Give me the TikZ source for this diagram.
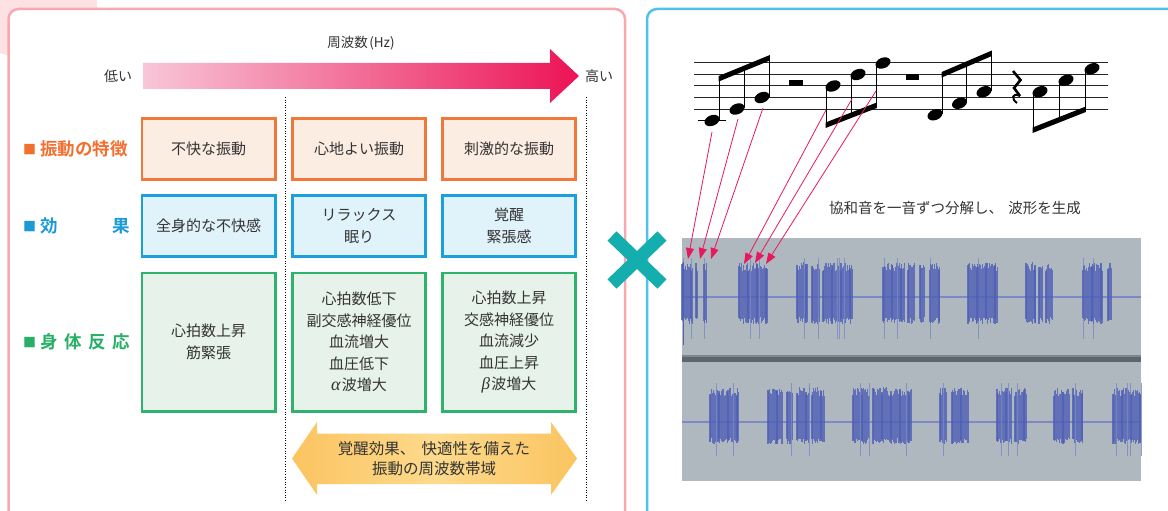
\documentclass[tikz,border=0pt]{standalone}
\usepackage{fontspec}
\setmainfont{Noto Sans CJK JP}
\newfontfamily\jpb{Noto Sans CJK JP Bold}
\newfontfamily\grk{Liberation Serif}
\usetikzlibrary{arrows.meta}
\definecolor{bgpink}{HTML}{FDE1E3}
\definecolor{pinkline}{HTML}{F7A9AF}
\definecolor{blueline}{HTML}{4FC1EC}
\definecolor{xteal}{HTML}{14AEAF}
\definecolor{arrL}{HTML}{F8C6D8}
\definecolor{arrR}{HTML}{EC1356}
\definecolor{orgB}{HTML}{F2773A}
\definecolor{orgF}{HTML}{FCEDE3}
\definecolor{bluB}{HTML}{1AA0DD}
\definecolor{bluF}{HTML}{E0F2FA}
\definecolor{grnB}{HTML}{2DB36C}
\definecolor{grnF}{HTML}{E7F2EA}
\definecolor{orgT}{HTML}{F26F30}
\definecolor{bluT}{HTML}{1B9AD6}
\definecolor{grnT}{HTML}{2AAF69}
\definecolor{txt}{HTML}{333333}
\definecolor{dblL}{HTML}{FBC460}
\definecolor{dblM}{HTML}{FDDA8C}
\definecolor{wavebg}{HTML}{AFB8BF}
\definecolor{wcore}{HTML}{4F60B5}
\definecolor{wspike}{HTML}{7A88C6}
\definecolor{wsep}{HTML}{5B676C}
\definecolor{wmid}{HTML}{7D89C4}
\definecolor{redarr}{HTML}{E8185C}
\newcommand\wblob[5]{%
  \pgfmathtruncatemacro\wbn{(#2-#1)/0.9}%
  \foreach \i in {0,...,\wbn}{%
    \pgfmathsetmacro\wbx{#1+\i*0.9}%
    \pgfmathsetmacro\wbu{#4*(0.78+0.27*rnd)}%
    \pgfmathsetmacro\wbd{#5*(0.78+0.27*rnd)}%
    \draw[wavecore] (\wbx,#3-\wbu) -- (\wbx,#3+\wbd);
    \pgfmathtruncatemacro\wbs{rnd<0.08 ? 1 : 0}%
    \ifnum\wbs=1 \draw[wavespike] (\wbx,#3-#4*1.18) -- (\wbx,#3+#5*1.6);\fi
  }}
\newcommand\nhead[2]{\fill[rotate around={22:(#1,#2)}] (#1,#2) ellipse [x radius=7.8, y radius=5.3];}
\begin{document}
\begin{tikzpicture}[x=1pt,y=-1pt,
  boxtxt/.style={text=txt, font=\fontsize{15}{21.5}\selectfont, align=center, line width=2.6pt, minimum width=133.4pt, inner sep=0pt},
  obox/.style={boxtxt, draw=orgB, fill=orgF, minimum height=61.4pt},
  bbox/.style={boxtxt, draw=bluB, fill=bluF, minimum height=61.4pt},
  gbox/.style={boxtxt, draw=grnB, fill=grnF, minimum height=138.4pt},
  lbl/.style={anchor=west, inner sep=0pt, font=\jpb\fontsize{17.5}{18}\selectfont},
  small/.style={text=txt, font=\fontsize{14}{14}\selectfont, inner sep=0pt},
  wavecore/.style={draw=wcore, line width=1.1pt, opacity=0.8},
  wavespike/.style={draw=wspike, line width=0.8pt, opacity=0.8},
  redconn/.style={draw=redarr, line width=0.8pt, -{Triangle[length=11pt,width=8pt]}},
  xarm/.style={draw=xteal, line width=13pt}
]
\useasboundingbox (0,0) rectangle (1168,511);
% background corner and panels
\fill[bgpink] (0,0) -- (97,0) -- (97,20) -- (20,20) -- (20,60) -- (0,53) -- cycle;
\draw[pinkline, line width=2.5pt, fill=white, rounded corners=10pt] (8.5,9) rectangle (625,560);
\draw[blueline, line width=2.5pt, fill=white, rounded corners=10pt] (647,9) rectangle (1200,560);
% frequency arrow
\shade[left color=arrL, right color=arrR] (143,63) -- (550,63) -- (550,49) -- (579,76) -- (550,103) -- (550,89) -- (143,89) -- cycle;
\node[small] (low) at (118,76) {低い};
\node[small] (high) at (599,76) {高い};
\node[small, font=\fontsize{13.5}{14}\selectfont] (freq) at (361,43) {周波数\hspace{1.5pt}(Hz)};
% dotted separators
\coordinate (d1t) at (285,97); \coordinate (d1b) at (285,502);
\coordinate (d2t) at (586,97); \coordinate (d2b) at (586,502);
\draw[black, line width=0.8pt, dash pattern=on 1pt off 1.6pt] (d1t) -- (d1b);
\draw[black, line width=0.8pt, dash pattern=on 1pt off 1.6pt] (d2t) -- (d2b);
% row labels
\node[lbl, text=orgT] (lab1) at (23,149) {\raisebox{1pt}{\fontsize{13}{13}\selectfont ■}\hspace{4pt}\makebox[90pt][l]{振動の特徴}};
\node[lbl, text=bluT] (lab2) at (23,226) {\raisebox{1pt}{\fontsize{13}{13}\selectfont ■}\hspace{4pt}\makebox[90pt][l]{効\hfill 果}};
\node[lbl, text=grnT] (lab3) at (23,342) {\raisebox{1pt}{\fontsize{13}{13}\selectfont ■}\hspace{4pt}\makebox[90pt][l]{身\hfill 体\hfill 反\hfill 応}};
% boxes
\node[obox] (o1) at (208.5,149) {不快な振動};
\node[obox] (o2) at (359,149) {心地よい振動};
\node[obox] (o3) at (509,149) {刺激的な振動};
\node[bbox] (b1) at (208.5,226) {全身的な不快感};
\node[bbox] (b2) at (359,226) {リラックス\\眠り};
\node[bbox] (b3) at (509,226) {覚醒\\緊張感};
\node[gbox] (g1) at (208.5,342) {心拍数上昇\\筋緊張};
\node[gbox] (g2) at (359,342) {心拍数低下\\副交感神経優位\\血流増大\\血圧低下\\{\grk\itshape\fontsize{18}{18}\selectfont α}\hspace{1.5pt}波増大};
\node[gbox] (g3) at (509,342) {心拍数上昇\\交感神経優位\\血流減少\\血圧上昇\\{\grk\itshape\fontsize{17}{17}\selectfont β}\hspace{1.5pt}波増大};
% double arrow
\shade[left color=dblL, right color=dblL, middle color=dblM] (292,458.5) -- (317,422) -- (317,433.5) -- (551,433.5) -- (551,422) -- (577,458.5) -- (551,495) -- (551,484) -- (317,484) -- (317,495) -- cycle;
\node[text=txt, font=\fontsize{15.5}{20}\selectfont, align=center] (band) at (434,458.5) {覚醒効果、\hspace{0.4em}快適性を備えた\\振動の周波数帯域};
% X mark
\draw[xarm] (612,236) -- (662,284);
\draw[xarm] (612,284) -- (662,236);
% staff
\foreach \yy in {63,74.5,86,97.5,109} \draw[line width=1pt, black!85] (694,\yy) -- (1108,\yy);
\draw[line width=1pt] (698,120.5) -- (726,120.5);
% group 1
\nhead{712}{120.5}\nhead{737}{109}\nhead{762}{97.5}
\draw[line width=1.2pt] (719.3,120) -- (719.3,78) (744.3,108) -- (744.3,68) (769.3,97) -- (769.3,57);
\fill (718.7,76) -- (769.9,55) -- (769.9,60.5) -- (718.7,81.5) -- cycle;
% half rest
\fill (789,80) rectangle (803,86);
% group 2
\nhead{833}{86}\nhead{858}{74.5}\nhead{883}{63}
\draw[line width=1.2pt] (826.2,86.5) -- (826.2,126) (851.2,75) -- (851.2,116) (876.2,63.5) -- (876.2,106);
\fill (825.6,122.5) -- (876.8,102.5) -- (876.8,108) -- (825.6,128) -- cycle;
% whole rest
\fill (906,74.5) rectangle (919,80.5);
% group 3
\nhead{935}{114.75}\nhead{959.5}{103.25}\nhead{984}{91.75}
\draw[line width=1.2pt] (942.3,114) -- (942.3,74) (966.8,103) -- (966.8,64) (991.3,91) -- (991.3,53);
\fill (941.7,72) -- (991.9,50.5) -- (991.9,56) -- (941.7,77.5) -- cycle;
% quarter rest
\draw[line width=2.6pt, line join=miter] (1013,71) -- (1020.5,80) -- (1014,88) -- (1020,96);
\draw[line width=2pt] (1020,96) .. controls (1012,92) and (1011,99) .. (1017,103);
% group 4
\nhead{1040}{91.75}\nhead{1066}{80.25}\nhead{1092}{68.75}
\draw[line width=1.2pt] (1033.2,92) -- (1033.2,131) (1059.2,80.5) -- (1059.2,121) (1085.2,69) -- (1085.2,111);
\fill (1032.6,127.5) -- (1085.8,106.5) -- (1085.8,112) -- (1032.6,133) -- cycle;
% caption
\node[text=txt, font=\fontsize{14.5}{15}\selectfont, inner sep=0pt] (cap) at (955,208) {協和音を一音ずつ分解し、\hspace{0.35em}波形を生成};
% waveform
\fill[wavebg] (682,238) rectangle (1141,481);
\draw[wmid, line width=1.5pt] (682,297) -- (1141,297);
\draw[wmid, line width=1.5pt] (682,422) -- (1141,422);
\fill[wsep] (682,356.5) rectangle (1141,362);
\fill[wsep!60!wavebg] (682,355) rectangle (1141,356.5);
\pgfmathsetseed{17}
\foreach \a/\b in {682/693,696/698,704/707,739/768,797/808,812/820,823/853,883/905,908/915,920/925,930/940,968/998,1026/1036,1039/1043,1046/1053,1083/1103,1108/1112}{\wblob{\a}{\b}{297}{33}{26}}
\foreach \a/\b in {710/739,768/783,787/793,797/810,812/825,853/870,873/912,940/947,952/969,997/1012,1015/1027,1054/1070,1073/1083,1113/1141}{\wblob{\a}{\b}{422}{33}{21}}
\draw[wcore, line width=1pt] (683,262) -- (683,345);
% red connectors
\coordinate (s1) at (712,132); \coordinate (e1) at (688,259);
\coordinate (s2) at (738,119); \coordinate (e2) at (700,259);
\coordinate (s3) at (763,108); \coordinate (e3) at (711,259);
\coordinate (s4) at (826,110); \coordinate (e4) at (744,264);
\coordinate (s5) at (852,99);  \coordinate (e5) at (755,263);
\coordinate (s6) at (876,91);  \coordinate (e6) at (766,264);
\foreach \k in {1,...,6} \draw[redconn] (s\k) -- (e\k);
\end{tikzpicture}
\end{document}
